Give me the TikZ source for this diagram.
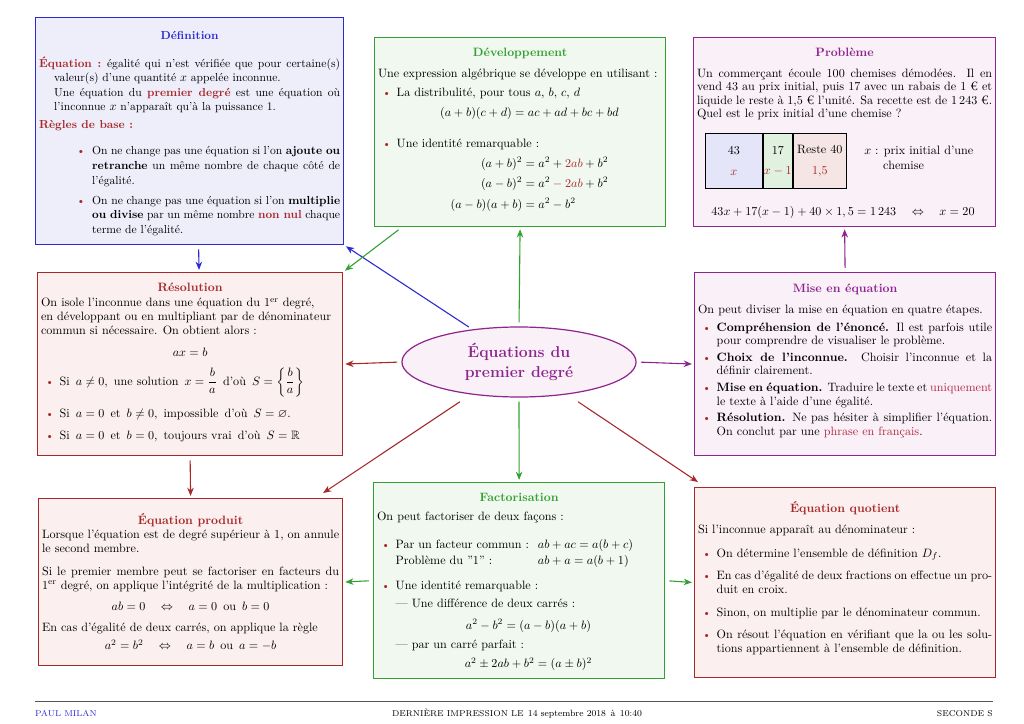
\documentclass[tikz,border=0pt]{standalone}
\usepackage{fontspec}
\usepackage{amsmath,amssymb}
\usepackage{enumitem}
\usetikzlibrary{shapes.geometric,arrows.meta,positioning}
\definecolor{royal}{HTML}{2A2AD0}
\definecolor{royalpale}{HTML}{EEEEFB}
\definecolor{meadow}{HTML}{33A033}
\definecolor{meadowpale}{HTML}{F0F8EF}
\definecolor{plum}{HTML}{8E248E}
\definecolor{plumpale}{HTML}{F9F0F8}
\definecolor{brick}{HTML}{A82828}
\definecolor{brickpale}{HTML}{FBF0EF}
\definecolor{rosered}{HTML}{B5283F}
\definecolor{warmgray}{HTML}{555555}
\newlength\px \setlength\px{0.29mm}
\newcommand{\fiche}[3]{\begin{minipage}[t][\dimexpr#2\px-2mm\relax][t]{\dimexpr#1\px-2mm\relax}\fontsize{10}{11.2}\selectfont#3\end{minipage}}
\newcommand{\titre}[2]{{\centering\textbf{\color{#1}#2}\par}}
\setlist[itemize]{label={\textcolor{brick}{\small\textbullet}},leftmargin=5.4mm,labelsep=1.6mm,topsep=3pt,itemsep=2pt,parsep=0pt,partopsep=0pt}

\begin{document}
\begin{tikzpicture}[x=0.29mm,y=-0.29mm,
    fiche/.style={draw,line width=1pt,inner sep=1mm,anchor=north west},
    fleche/.style={-{Stealth[length=2.4mm,width=1.9mm]},line width=0.9pt,shorten <=1.2mm,shorten >=0.6mm},
    cellule/.style={draw,line width=0.8pt,minimum height=16mm,inner sep=0pt,align=center}]
    \useasboundingbox (0,0) rectangle (1024,724);
    % les fiches
    \node[fiche,draw=royal,fill=royalpale] (def) at (35,17) {\fiche{308}{227}{\fontsize{9.6}{12}\selectfont
        \vspace*{2.9mm}\titre{royal}{Définition}
        \vspace{11pt}
        {\hangindent=4.4mm\hangafter=1 \textbf{\color{brick}Équation~:}\enspace égalité qui n'est vérifiée que pour certaine(s) valeur(s) d'une quantité $x$ appelée inconnue.\par}
        {\leftskip=4.4mm Une équation du \textbf{\color{brick}premier degré} est une équation où l'inconnue $x$ n'apparaît qu'à la puissance 1.\par}
        \vspace{3pt}
        \textbf{\color{brick}Règles de base~:}
        \begin{itemize}[leftmargin=15.4mm,labelsep=2mm,topsep=9.5pt,itemsep=4.5pt]
            \item On ne change pas une équation si l'on \textbf{ajoute ou retranche} un même nombre de chaque côté de l'égalité.
            \item On ne change pas une équation si l'on \textbf{multiplie ou divise} par un même nombre \textbf{\color{brick}non nul} chaque terme de l'égalité.
        \end{itemize}}};
    \node[fiche,draw=meadow,fill=meadowpale] (dev) at (374,37) {\fiche{291}{189}{
        \vspace*{2mm}\titre{meadow}{Développement}
        \vspace{5.8pt}
        Une expression algébrique se développe en utilisant~:
        \begin{itemize}[topsep=5pt,itemsep=14.5pt]
            \item La distribulité, pour tous $a$, $b$, $c$, $d$\par
            \vspace{5pt}{\centering $(a+b)(c+d)=ac+ad+bc+bd$\par}
            \item Une identité remarquable~:\par
            \vspace{5pt}{\centering\setlength\jot{4pt}$\begin{aligned}[t]
                (a+b)^2&=a^2+\textcolor{brick}{2ab}+b^2\\
                (a-b)^2&=a^2\textcolor{brick}{{}-2ab}+b^2\\
                (a-b)(a+b)&=a^2-b^2
            \end{aligned}$\par}
        \end{itemize}}};
    \node[fiche,draw=plum,fill=plumpale] (prob) at (693,37) {\fiche{302}{189}{
        \vspace*{2mm}\titre{plum}{Problème}
        \vspace{5.8pt}
        Un commerçant écoule 100 chemises démodées. Il en vend 43 au prix initial, puis 17 avec un rabais de 1~€ et liquide le reste à 1,5~€ l'unité. Sa recette est de 1\,243~€. Quel est le prix initial d'une chemise~?}};
    \node[fiche,draw=brick,fill=brickpale] (res) at (37,272) {\fiche{305}{183}{
        \vspace*{2mm}\titre{brick}{Résolution}
        \vspace{1.5pt}
        On isole l'inconnue dans une équation du 1\textsuperscript{er} degré,\\
        en développant ou en multipliant par de dénominateur\\
        commun si nécessaire. On obtient alors~:\par
        \vspace{7pt}{\centering $ax=b$\par}
        \begin{itemize}[topsep=8.5pt,itemsep=6.5pt]
            \item Si\enspace $a\neq0$,\enspace une solution\enspace $x=\dfrac{b}{a}$\enspace d'où\enspace $S=\left\{\dfrac{b}{a}\right\}$
            \vspace{3pt}
            \item Si\enspace $a=0$\enspace et\enspace $b\neq0$,\enspace impossible\enspace d'où\enspace $S=\varnothing$.
            \item Si\enspace $a=0$\enspace et\enspace $b=0$,\enspace toujours vrai\enspace d'où\enspace $S=\mathbb{R}$
        \end{itemize}}};
    \node[fiche,draw=plum,fill=plumpale] (mise) at (694,272) {\fiche{301}{183}{
        \vspace*{2.3mm}\titre{plum}{Mise en équation}
        \vspace{6.5pt}
        On peut diviser la mise en équation en quatre étapes.
        \begin{itemize}[topsep=3pt,itemsep=2.5pt]
            \item \textbf{Compréhension de l'énoncé.} Il est parfois utile pour comprendre de visualiser le problème.
            \item \textbf{Choix de l'inconnue.} Choisir l'inconnue et la définir clairement.
            \item \textbf{Mise en équation.} Traduire le texte et \textcolor{rosered}{uniquement} le texte à l'aide d'une égalité.
            \item \textbf{Résolution.} Ne pas hésiter à simplifier l'équation. On conclut par une \textcolor{rosered}{phrase en français}.
        \end{itemize}}};
    \node[fiche,draw=brick,fill=brickpale] (prod) at (38,498) {\fiche{304}{167}{
        \vspace*{3.2mm}\titre{brick}{Équation produit}
        \vspace{1pt}
        Lorsque l'équation est de degré supérieur à 1, on annule le second membre.\par
        \vspace{8pt}
        Si le premier membre peut se factoriser en facteurs du 1\textsuperscript{er} degré, on applique l'intégrité de la multiplication~:\par
        \vspace{6pt}{\centering $ab=0\quad\Leftrightarrow\quad a=0$\enspace ou\enspace $b=0$\par}
        \vspace{6pt}
        En cas d'égalité de deux carrés, on applique la règle\par
        \vspace{4pt}{\centering $a^2=b^2\quad\Leftrightarrow\quad a=b$\enspace ou\enspace $a=-b$\par}}};
    \node[fiche,draw=meadow,fill=meadowpale] (fact) at (373,482) {\fiche{291}{196}{
        \vspace*{2mm}\titre{meadow}{Factorisation}
        \vspace{5pt}
        On peut factoriser de deux façons~:
        \begin{itemize}[topsep=10pt,itemsep=8.5pt]
            \item {\renewcommand\arraystretch{1.2}\begin{tabular}[t]{@{}l@{\hspace{2.6mm}}l@{}}
                Par un facteur commun~: & $ab+ac=a(b+c)$\\
                Problème du {\char34}1{\char34}~: & $ab+a=a(b+1)$
            \end{tabular}}
            \item Une identité remarquable~:\par
            \vspace{4pt}— Une différence de deux carrés~:\par
            \vspace{6.5pt}{\centering $a^2-b^2=(a-b)(a+b)$\par}
            \vspace{4.5pt}— par un carré parfait~:\par
            \vspace{5pt}{\centering $a^2\pm2ab+b^2=(a\pm b)^2$\par}
        \end{itemize}}};
    \node[fiche,draw=brick,fill=brickpale] (quot) at (694,487) {\fiche{301}{190}{
        \vspace*{3mm}\titre{brick}{Équation quotient}
        \vspace{6.5pt}
        Si l'inconnue apparaît au dénominateur~:
        \begin{itemize}[topsep=8pt,itemsep=7.5pt]
            \item On détermine l'ensemble de définition $D_f$.
            \item En cas d'égalité de deux fractions on effectue un produit en croix.
            \item Sinon, on multiplie par le dénominateur commun.
            \item On résout l'équation en vérifiant que la ou les solutions appartiennent à l'ensemble de définition.
        \end{itemize}}};
    % le tableau du probleme
    \node[cellule,fill=royal!12,anchor=north west,minimum width=16.5mm] (lot43) at (705,133) {43\\[5pt]\textcolor{brick}{$x$}};
    \node[cellule,fill=meadow!15,minimum width=8.4mm,right=0pt of lot43] (lot17) {17\\[5pt]\textcolor{brick}{$x-1$}};
    \node[cellule,fill=brick!12,minimum width=15.4mm,right=0pt of lot17] (lot40) {Reste 40\\[5pt]\textcolor{brick}{1,5}};
    \node[anchor=north west,align=left,inner sep=0pt] (legende) at (864,146) {$x$~: prix initial d'une\\\hspace*{5.5mm}chemise};
    \node (recette) at (843,212) {$43x+17(x-1)+40\times1,5=1\,243\quad\Leftrightarrow\quad x=20$};
    % le centre
    \node[ellipse,draw=plum,fill=plumpale,line width=1pt,minimum width=67.9mm,minimum height=20.3mm,
        align=center,text=plum,font=\fontsize{13}{16.5}\selectfont\bfseries] (centre) at (519,362) {Équations du\\premier degré};
    % les liens
    \draw[fleche,royal] (centre.145) -- (def.south east);
    \draw[fleche,royal] ([xshift=2.6mm]def.south) -- ([xshift=2.6mm]res.north);
    \draw[fleche,meadow] ([xshift=8.1mm]dev.south west) -- (res.north east);
    \draw[fleche,meadow] (centre.north) -- (dev.south);
    \draw[fleche,plum] (mise.north) -- (prob.south);
    \draw[fleche,brick] (centre.west) -- (res.east);
    \draw[fleche,plum] (centre.east) -- (mise.west);
    \draw[fleche,brick,shorten <=3.8mm,shorten >=2.6mm] (centre.214) -- ([xshift=-8mm]prod.north east);
    \draw[fleche,brick] (res.south) -- (prod.north);
    \draw[fleche,meadow] (centre.south) -- (fact.north);
    \draw[fleche,brick,shorten <=3.8mm,shorten >=2.6mm] (centre.326) -- ([xshift=3.3mm]quot.north west);
    \draw[fleche,meadow] (fact.west) -- (prod.east);
    \draw[fleche,meadow] (fact.east) -- (quot.west);
    % pied de page
    \coordinate (filetG) at (35,701);
    \coordinate (filetD) at (993,701);
    \draw[warmgray,line width=0.6pt] (filetG) -- (filetD);
    \node[anchor=west,inner sep=0pt,text=royal,font=\fontsize{7}{8}\selectfont] (auteur) at (35,714) {PAUL MILAN};
    \node[inner sep=0pt,font=\fontsize{7}{8}\selectfont] (impression) at (517,714) {DERNIÈRE IMPRESSION LE\enspace{\fontsize{7.5}{8}\selectfont 14 septembre 2018\enspace à\enspace 10:40}};
    \node[anchor=east,inner sep=0pt,font=\fontsize{7}{8}\selectfont] (classe) at (993,714) {SECONDE S};
\end{tikzpicture}
\end{document}
